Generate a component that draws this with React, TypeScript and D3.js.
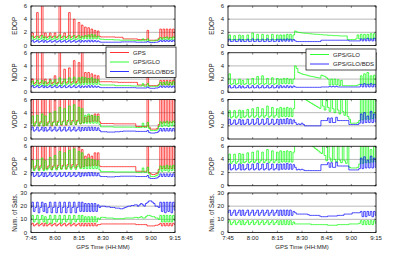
import React from 'react';
import * as d3 from 'd3';

// time axis: minutes after 7:45, one sample per minute
const minutes = d3.range(0, 91);
const timeTicks = [0, 15, 30, 45, 60, 75, 90];
const timeLabels = ['7:45', '8:00', '8:15', '8:30', '8:45', '9:00', '9:15'];
const dopTicks = [0, 2, 4, 6];
const satTicks = [0, 10, 20, 30];

// ---- left column: GPS, GPS/GLO, GPS/GLO/BDS ----
const edopGps = [1.4,1.9,1.2,1.4,5.0,1.2,1.5,6.5,1.2,1.9,
  1.2,1.4,1.9,1.2,1.4,1.9,1.2,1.4,6.5,1.2,
  1.4,1.9,1.2,1.4,5.0,1.2,1.4,4.0,1.2,1.4,
  3.5,1.2,3.1,1.3,2.8,1.3,2.7,1.3,2.5,1.3,
  2.3,1.3,2.2,1.4,1.3,1.3,1.3,1.3,1.3,1.3,
  1.3,1.3,1.3,1.25,1.25,1.25,1.25,1.25,1.0,1.0,
  1.0,1.0,1.0,1.0,1.0,1.0,1.0,0.9,0.9,0.9,
  0.9,0.9,0.9,2.3,0.8,0.8,0.8,0.8,0.8,0.8,
  1.1,2.5,1.1,2.5,1.2,2.5,1.1,2.5,1.2,2.5,
  1.2];
const edopGlo = [1.0,1.4,0.9,1.0,1.4,0.9,1.0,1.5,0.9,1.3,
  0.9,1.0,1.4,0.9,1.0,1.4,0.9,1.0,1.6,0.9,
  1.0,1.4,0.9,1.0,1.5,0.9,1.0,1.5,0.9,1.0,
  1.5,0.9,1.4,1.0,1.5,1.0,1.6,1.0,1.7,1.0,
  1.6,1.0,1.4,1.0,0.95,0.95,0.9,0.9,0.9,0.9,
  0.9,0.9,0.85,0.85,0.85,0.85,0.8,0.8,0.8,0.8,
  0.8,0.8,0.8,0.8,0.8,0.75,0.75,0.75,0.75,0.7,
  1.0,0.7,0.7,1.0,0.7,0.7,0.7,0.7,0.8,0.8,
  0.9,1.2,0.9,1.2,0.9,1.3,0.9,1.2,0.9,1.3,
  0.9];
const edopBds = [0.6,0.8,0.5,0.6,0.8,0.5,0.6,0.8,0.5,0.75,
  0.5,0.6,0.8,0.5,0.6,0.8,0.5,0.6,0.8,0.5,
  0.6,0.8,0.5,0.6,0.8,0.5,0.6,0.8,0.5,0.6,
  0.8,0.5,0.75,0.55,0.75,0.55,0.8,0.55,0.8,0.55,
  0.75,0.55,0.7,0.55,0.5,0.5,0.5,0.5,0.5,0.5,
  0.5,0.5,0.5,0.5,0.5,0.5,0.5,0.55,0.55,0.55,
  0.55,0.55,0.55,0.55,0.55,0.55,0.5,0.5,0.5,0.5,
  0.5,0.5,0.5,0.6,0.5,0.45,0.45,0.45,0.5,0.5,
  0.6,0.8,0.6,0.8,0.6,0.8,0.6,0.8,0.6,0.8,
  0.6];

const ndopGps = [1.5,2.0,1.3,1.5,6.5,1.3,1.5,6.5,1.3,2.0,
  1.3,1.5,2.0,1.3,1.5,2.5,1.3,1.5,6.5,1.3,
  1.6,3.5,1.4,1.6,3.7,1.4,1.6,4.8,1.4,1.7,
  4.5,1.4,6.5,1.5,3.0,1.5,3.0,1.5,2.8,1.5,
  2.6,1.5,2.5,1.6,1.6,1.6,1.6,1.6,1.6,1.6,
  1.6,1.55,1.55,1.55,1.55,1.5,1.5,1.5,1.5,1.5,
  1.5,1.5,1.5,1.5,1.5,1.5,1.5,1.1,1.1,1.1,
  1.1,1.1,1.1,2.3,1.0,1.0,1.0,1.0,1.0,1.0,
  1.2,1.8,1.1,1.8,1.2,1.8,1.1,1.8,1.2,1.8,
  1.2];
const ndopGlo = [1.2,1.7,1.0,1.2,1.8,1.0,1.2,1.8,1.0,1.6,
  1.0,1.2,1.8,1.0,1.2,1.9,1.0,1.3,2.2,1.0,
  1.3,2.0,1.1,1.3,2.2,1.1,1.3,2.3,1.1,1.3,
  2.2,1.1,2.3,1.2,2.2,1.2,2.1,1.2,2.2,1.2,
  2.0,1.2,1.9,1.2,1.1,1.1,1.1,1.1,1.1,1.1,
  1.1,1.1,1.1,1.0,1.0,1.0,1.0,1.0,1.0,1.0,
  1.0,1.0,1.0,0.95,0.95,0.95,0.95,0.95,0.95,0.95,
  1.3,0.9,0.9,1.3,0.9,0.9,0.9,0.9,0.9,0.9,
  1.1,1.5,1.1,1.5,1.1,1.6,1.1,1.5,1.1,1.6,
  1.1];
const ndopBds = [0.8,1.0,0.7,0.8,1.0,0.7,0.8,1.0,0.7,0.95,
  0.7,0.8,1.0,0.7,0.8,1.0,0.7,0.8,1.0,0.7,
  0.8,1.0,0.7,0.8,1.0,0.7,0.8,1.0,0.7,0.8,
  1.0,0.7,0.95,0.75,0.95,0.75,1.0,0.75,1.0,0.75,
  0.95,0.75,0.9,0.75,0.7,0.7,0.7,0.7,0.7,0.7,
  0.7,0.7,0.7,0.7,0.7,0.7,0.7,0.7,0.7,0.7,
  0.7,0.7,0.7,0.7,0.7,0.7,0.65,0.65,0.65,0.65,
  0.65,0.65,0.65,0.8,0.65,0.6,0.6,0.6,0.65,0.65,
  0.75,0.95,0.75,0.95,0.75,0.95,0.75,0.95,0.75,0.95,
  0.75];

const vdopGps = [2.4,6.5,2.0,2.6,6.5,2.0,2.6,6.5,2.0,6.5,
  2.1,2.6,6.5,2.0,2.6,6.5,2.1,2.7,6.5,2.1,
  2.7,6.5,2.1,2.8,6.5,2.2,2.8,6.5,2.2,2.8,
  6.5,2.3,6.5,2.5,3.3,2.6,3.5,2.6,3.6,2.7,
  3.8,2.7,3.8,2.6,2.35,2.35,2.35,2.35,2.35,2.35,
  2.35,2.35,2.3,2.3,2.3,2.3,2.3,2.3,2.3,2.3,
  2.3,2.3,2.3,2.3,2.3,2.3,1.9,1.9,1.9,1.9,
  1.9,1.9,1.9,6.5,1.8,1.5,1.5,1.5,1.5,1.6,
  2.2,6.5,2.4,6.5,2.5,6.5,2.4,6.5,2.5,6.5,
  2.5];
const vdopGlo = [2.3,3.5,2.0,2.4,3.6,2.0,2.4,3.8,2.0,3.5,
  2.1,2.4,3.9,2.1,2.5,4.2,2.1,2.5,4.8,2.2,
  2.6,4.6,2.2,2.6,5.0,2.2,2.6,5.2,2.2,2.6,
  4.8,2.3,4.6,2.4,3.6,2.4,3.8,2.4,3.6,2.4,
  3.5,2.4,3.4,2.2,1.85,1.85,1.85,1.85,1.85,1.85,
  1.85,1.85,1.8,1.8,1.8,1.8,1.8,1.8,1.8,1.8,
  1.8,1.8,1.8,1.8,1.8,1.8,1.75,1.75,1.75,1.75,
  2.4,1.75,1.75,2.5,1.6,1.3,1.3,1.3,1.3,1.4,
  1.9,2.6,1.9,2.6,2.0,2.7,1.9,2.6,2.0,2.7,
  2.0];
const vdopBds = [1.4,1.8,1.2,1.4,1.8,1.2,1.4,1.8,1.2,1.75,
  1.2,1.4,1.8,1.2,1.4,1.8,1.2,1.4,1.8,1.2,
  1.4,1.8,1.2,1.4,1.8,1.2,1.4,1.8,1.2,1.4,
  1.8,1.2,1.75,1.3,1.75,1.3,1.8,1.3,1.8,1.3,
  1.75,1.3,1.7,1.3,1.1,1.1,1.1,1.1,1.05,1.05,
  1.05,1.05,1.05,1.1,1.1,1.1,1.15,1.15,1.2,1.2,
  1.2,1.2,1.2,1.2,1.2,1.2,1.15,1.15,1.15,1.15,
  1.15,1.15,1.15,1.3,1.0,0.9,0.9,0.9,0.95,1.0,
  1.2,1.6,1.2,1.6,1.2,1.6,1.2,1.6,1.2,1.6,
  1.2];

const pdopGps = [2.8,6.5,2.5,3.0,6.5,2.5,3.0,6.5,2.5,6.5,
  2.6,3.0,6.5,2.5,3.0,6.5,2.6,3.1,6.5,2.6,
  3.1,6.5,2.6,3.2,6.5,2.7,3.2,6.5,2.7,3.2,
  6.5,2.8,5.5,2.9,4.5,3.0,4.8,3.0,4.5,3.1,
  5.0,3.1,5.0,3.0,2.9,2.9,2.9,2.9,2.9,2.9,
  2.9,2.9,2.9,2.9,2.9,2.9,2.9,2.9,2.9,2.9,
  2.9,2.9,2.9,2.9,2.9,2.9,2.2,2.2,2.2,2.2,
  2.2,2.2,2.2,6.5,2.0,1.8,1.7,1.7,1.8,1.9,
  2.5,6.5,2.6,6.5,2.6,6.5,2.6,6.5,2.6,6.5,
  2.6];
const pdopGlo = [2.6,3.8,2.3,2.7,3.9,2.3,2.7,4.2,2.3,3.8,
  2.4,2.7,4.3,2.4,2.8,4.6,2.4,2.8,5.2,2.5,
  2.9,5.0,2.5,2.9,5.4,2.5,2.9,5.6,2.5,2.9,
  5.2,2.6,5.0,2.6,4.0,2.6,4.2,2.6,4.0,2.6,
  3.9,2.6,3.8,2.4,2.15,2.15,2.15,2.15,2.15,2.15,
  2.15,2.15,2.1,2.1,2.1,2.1,2.1,2.1,2.1,2.1,
  2.1,2.1,2.1,2.1,2.1,2.1,2.05,2.05,2.05,2.05,
  2.7,2.05,2.05,2.8,1.8,1.4,1.4,1.4,1.5,1.6,
  2.2,3.0,2.2,3.0,2.3,3.1,2.2,3.0,2.3,3.1,
  2.3];
const pdopBds = [1.6,2.0,1.4,1.6,2.0,1.4,1.6,2.0,1.4,1.95,
  1.4,1.6,2.0,1.4,1.6,2.0,1.4,1.6,2.0,1.4,
  1.6,2.0,1.4,1.6,2.0,1.4,1.6,2.0,1.4,1.6,
  2.0,1.4,1.95,1.5,1.95,1.5,2.0,1.5,2.0,1.5,
  1.95,1.5,1.9,1.5,1.4,1.4,1.4,1.4,1.35,1.35,
  1.35,1.35,1.35,1.4,1.4,1.4,1.45,1.45,1.45,1.45,
  1.45,1.45,1.45,1.45,1.45,1.45,1.4,1.4,1.4,1.4,
  1.4,1.4,1.4,1.55,1.2,1.1,1.1,1.1,1.15,1.2,
  1.4,1.8,1.4,1.8,1.4,1.8,1.4,1.8,1.4,1.8,
  1.4];

const satsBds = [19,23,16,19,23,15,19,23,16,22,
  15,19,23,15,19,23,15,19,23,15,
  19,23,15,19,23,15,19,23,15,19,
  23,16,23,16,22,16,22,16,22,16,
  22,16,21,19,20,20,20,19.5,19.5,19.5,
  19,19,19,18.5,18.5,18.5,18,18,18.5,19,
  19.5,20,20,20.5,20.5,21,21,20,21,22,
  21,20,22,23,24,24,23,22,20,20,
  19,23,16,23,15,23,16,23,15,23,
  17];
const satsGlo = [10,13,8,10,13,7,10,13,8,12,
  7,10,13,7,10,13,8,10,13,7,
  10,13,8,10,13,7,10,13,8,10,
  13,8,13,8,12,8,12,8,12,8,
  12,8,11,10,11.5,11.5,11.5,11,11,11,
  11,11,10.5,10.5,10.5,10.5,10.5,10.5,10.5,11,
  11,11,11,11,11,11.5,11.5,11,11.5,12,
  11,11,12,13,13,12.5,12,12,11,11,
  10,13,8,13,8,13,8,13,8,13,
  9];
const satsGps = [6,7,5,6,7,5,6,7,5,7,
  5,6,7,5,6,7,5,6,7,5,
  6,7,5,6,7,5,6,7,5,6,
  7,5,7,5,7,5,7,5,7,5,
  7,5,6,6,6.5,6.5,6.5,6.5,6.5,6.5,
  6.5,6.5,6.5,6.5,6.5,6.5,6.5,6.5,6.5,6.5,
  6.5,6.5,6.5,6.5,6.5,6.5,6,6,6,6,
  6,6,6,5,5,5,5,5,5.5,5.5,
  6,7,5,7,5,7,5,7,5,7,
  6];

// ---- right column: GPS/GLO, GPS/GLO/BDS ----
const rEdopGlo = [0.9,1.6,0.85,0.9,1.5,0.85,0.9,1.6,0.85,1.5,
  0.85,0.9,1.6,0.85,0.9,1.9,0.85,0.9,1.7,0.85,
  0.9,1.7,0.85,0.9,1.6,0.85,0.9,1.7,0.85,0.9,
  1.6,0.85,1.6,0.85,1.6,0.85,1.7,0.9,1.7,0.9,
  1.6,2.2,2.05,2.0,1.95,1.9,1.9,1.85,1.85,1.8,
  1.8,1.75,1.75,1.7,1.7,1.7,1.65,1.65,1.6,1.6,
  1.6,1.55,1.55,1.55,1.5,1.5,1.5,1.5,1.45,1.45,
  1.45,1.45,1.45,0.9,0.9,0.9,0.9,0.9,1.0,1.6,
  1.0,1.7,1.0,1.7,1.0,1.7,1.0,1.8,1.0,1.8,
  1.0];
const rEdopBds = [0.65,0.95,0.6,0.65,0.9,0.6,0.65,0.95,0.6,0.9,
  0.6,0.65,0.95,0.6,0.65,1.0,0.6,0.65,0.95,0.6,
  0.65,0.95,0.6,0.65,1.0,0.6,0.65,0.95,0.6,0.65,
  0.95,0.6,0.95,0.65,0.95,0.65,1.0,0.65,0.95,0.65,
  0.9,0.7,0.6,0.6,0.6,0.6,0.6,0.6,0.6,0.6,
  0.6,0.6,0.6,0.6,0.6,0.6,0.6,0.8,0.8,0.8,
  0.8,0.8,0.8,0.8,0.8,0.8,0.8,0.8,0.8,0.8,
  0.8,0.8,0.8,0.8,0.7,0.7,0.7,0.7,0.7,0.7,
  0.7,1.0,0.7,1.0,0.7,1.1,0.7,1.0,0.7,1.1,
  0.7];

const rNdopGlo = [1.3,2.8,1.2,1.3,1.9,1.2,1.3,2.0,1.2,1.8,
  1.2,1.3,2.0,1.2,1.3,2.1,1.2,1.3,2.4,1.2,
  1.3,2.5,1.2,1.3,2.1,1.2,1.3,2.2,1.2,1.3,
  2.1,1.2,2.0,1.3,2.1,1.3,2.1,1.3,2.0,1.3,
  2.0,4.0,3.6,3.0,2.9,2.8,2.7,2.65,2.6,2.5,
  2.45,2.4,2.35,2.3,2.25,2.2,2.15,2.6,2.5,2.4,
  2.2,2.0,1.1,2.0,1.1,2.0,1.1,1.9,1.0,1.8,
  1.0,1.0,1.0,1.0,1.0,1.0,1.0,1.0,1.0,1.1,
  1.2,2.5,1.2,2.8,1.2,3.0,1.2,2.5,1.2,2.6,
  1.2];
const rNdopBds = [0.7,1.0,0.65,0.7,1.0,0.65,0.7,1.0,0.65,0.95,
  0.65,0.7,1.0,0.65,0.7,1.0,0.65,0.7,1.0,0.65,
  0.7,1.0,0.65,0.7,1.0,0.65,0.7,1.0,0.65,0.7,
  1.0,0.65,1.0,0.7,0.95,0.7,1.0,0.7,0.95,0.7,
  0.95,0.8,0.75,0.75,0.75,0.75,0.75,0.75,0.75,0.75,
  0.75,0.75,0.75,0.75,0.75,0.75,0.75,0.8,0.8,0.8,
  0.8,0.8,0.9,0.8,0.9,0.8,0.9,0.8,0.8,0.8,
  0.8,0.8,0.8,0.8,0.8,0.8,0.8,0.8,0.8,0.8,
  0.8,1.2,0.8,1.3,0.8,1.2,0.8,1.3,0.8,1.2,
  0.8];

const rVdopGlo = [3.4,4.3,3.2,3.4,4.3,3.2,3.5,4.4,3.2,4.3,
  3.3,3.5,4.5,3.3,3.5,4.6,3.3,3.5,4.8,3.3,
  3.5,4.6,3.3,3.6,5.0,3.3,3.5,4.8,3.3,3.6,
  4.6,3.3,4.8,3.4,4.7,3.4,4.8,3.4,4.7,3.4,
  4.6,7,7,7,7,7,7,6.0,5.85,5.7,
  5.55,5.4,5.25,5.1,4.95,4.8,4.65,7,5.0,4.4,
  7,4.8,4.2,7,4.6,4.0,7,4.4,3.8,7,
  4.2,3.6,7,3.4,3.0,2.4,2.4,2.4,2.4,2.5,
  2.8,7,2.9,6.5,3.0,7,3.0,6.0,3.1,7,
  3.2];
const rVdopBds = [2.3,3.0,2.2,2.4,2.9,2.2,2.4,3.0,2.2,2.9,
  2.2,2.4,3.0,2.2,2.4,3.0,2.2,2.4,3.1,2.2,
  2.4,3.0,2.2,2.4,3.1,2.2,2.4,3.0,2.2,2.4,
  3.0,2.2,3.0,2.3,3.0,2.3,3.1,2.3,3.0,2.3,
  2.9,2.5,2.2,2.3,2.2,2.4,2.2,2.0,2.0,2.0,
  2.0,2.0,2.0,2.0,2.0,2.0,2.0,2.8,2.8,2.8,
  2.8,3.2,2.5,3.2,2.5,2.5,3.3,2.8,2.8,2.8,
  2.8,2.8,2.8,2.8,2.2,2.2,2.2,2.2,2.2,2.2,
  2.4,3.8,2.4,4.0,2.5,3.5,2.5,4.2,2.5,3.8,
  2.6];

const rPdopGlo = [3.6,4.8,3.4,3.7,4.8,3.4,3.7,4.9,3.4,4.8,
  3.5,3.7,5.0,3.5,3.7,5.1,3.5,3.8,5.3,3.5,
  3.8,5.1,3.5,3.8,5.5,3.5,3.8,5.3,3.5,3.8,
  5.1,3.5,5.3,3.6,5.2,3.6,5.3,3.6,5.2,3.6,
  5.1,7,7,7,7,7,7,7,7,7,
  7,6.1,5.9,5.7,5.5,5.3,5.1,4.9,7,4.6,
  3.8,7,4.2,3.7,7,4.0,3.6,7,3.9,3.5,
  7,3.8,3.4,7,2.8,2.7,2.7,2.7,2.7,2.8,
  3.3,7,3.4,6.0,3.5,7,3.5,5.5,3.6,7,
  3.6];
const rPdopBds = [2.5,3.3,2.4,2.6,3.2,2.4,2.6,3.3,2.4,3.2,
  2.4,2.6,3.3,2.4,2.6,3.3,2.4,2.6,3.4,2.4,
  2.6,3.3,2.4,2.6,3.4,2.4,2.6,3.3,2.4,2.6,
  3.3,2.4,3.3,2.5,3.3,2.5,3.4,2.5,3.3,2.5,
  3.2,2.8,2.4,2.5,2.4,2.5,2.4,2.3,2.3,2.3,
  2.3,2.3,2.3,2.3,2.3,2.3,2.3,3.2,3.2,3.2,
  3.2,3.5,2.8,3.5,2.8,2.8,3.6,3.0,3.0,3.0,
  3.0,3.0,3.0,3.0,2.4,2.4,2.4,2.4,2.4,2.4,
  2.6,4.2,2.6,4.4,2.7,3.9,2.7,4.5,2.7,4.2,
  2.8];

const rSatsBds = [15,17,13,15,17,13,15,17,13,17,
  13,15,17,13,15,17,13,15,17,13,
  15,17,13,15,17,13,15,17,13,15,
  17,13,17,13,17,13,17,13,17,13,
  16,15,14,14,14,14,14,14,14,13.5,
  13,13,13,13,13,13,12.5,12,12,12,
  12,12.5,12.5,12.5,12.5,12.5,12.5,13,13,13,
  13,14,14,14,14,14,15,15,15,15,
  15,16,12,16,12,16,13,16,12,16,
  13];
const rSatsGlo = [7.5,9,6,7.5,9,6,7.5,9,6,9,
  6,7.5,9,6,7.5,9,6,7.5,9,6,
  7.5,9,6,7.5,9,6,7.5,9,6,7.5,
  9,6,9,6,9,6,9,6,9,6,
  8,6.5,6.5,6.5,6.5,6.5,6.5,6.5,6.5,6.5,
  6.5,6,6,6,6,6,6,6,6,6,
  6,5.5,5.5,5.5,5.5,5.5,5.5,6,6,6,
  6,6,6,6,6.5,6.5,6.5,6.5,6.5,6.5,
  7,9,6,9,6,9,6,9,6,9,
  7];

const RED = '#ff0000';
const GREEN = '#00ff00';
const BLUE = '#0000ff';
const FONT = 'Liberation Sans, Arial, sans-serif';

const panelTops = [6, 52.75, 99.5, 146.25, 193];
const panelH = 39.5;

type Series = { values: number[]; color: string };

function Panel({ id, x0, x1, top, yMax, ticks, label, series, xLabels }: {
  id: string; x0: number; x1: number; top: number; yMax: number; ticks: number[];
  label: string; series: Series[]; xLabels: boolean;
}) {
  const x = d3.scaleLinear().domain([0, 90]).range([x0, x1]);
  const y = d3.scaleLinear().domain([0, yMax]).range([top + panelH, top]);
  const line = d3.line<number>().x((d, i) => x(minutes[i])).y(d => y(d)).curve(d3.curveStep);
  const bottom = top + panelH;

  return (
    <g>
      <clipPath id={id}>
        <rect x={x0} y={top} width={x1 - x0} height={panelH} />
      </clipPath>
      {/* grid */}
      {ticks.slice(1, -1).map(t => (
        <line key={t} x1={x0} x2={x1} y1={y(t)} y2={y(t)} stroke="#9a9a9a" strokeWidth={0.7} />
      ))}
      <g clipPath={`url(#${id})`}>
        {series.map((s, i) => (
          <path key={i} d={line(s.values) || ''} fill="none" stroke={s.color} strokeWidth={0.7} />
        ))}
      </g>
      {/* frame + ticks */}
      <rect x={x0} y={top} width={x1 - x0} height={panelH} fill="none" stroke="#000" strokeWidth={0.8} />
      {timeTicks.map(t => (
        <g key={t}>
          <line x1={x(t)} x2={x(t)} y1={bottom} y2={bottom - 1.8} stroke="#000" strokeWidth={0.5} />
          <line x1={x(t)} x2={x(t)} y1={top} y2={top + 1.8} stroke="#000" strokeWidth={0.5} />
        </g>
      ))}
      {ticks.map(t => (
        <g key={t}>
          <line x1={x0} x2={x0 + 1.8} y1={y(t)} y2={y(t)} stroke="#000" strokeWidth={0.5} />
          <line x1={x1} x2={x1 - 1.8} y1={y(t)} y2={y(t)} stroke="#000" strokeWidth={0.5} />
          <text x={x0 - 4} y={y(t) + 2} fontSize={6} textAnchor="end" fontFamily={FONT} fill="#222">{t}</text>
        </g>
      ))}
      <text transform={`translate(${x0 - 14},${top + panelH / 2}) rotate(-90)`} fontSize={6.3}
        textAnchor="middle" fontFamily={FONT} fill="#222">{label}</text>
      {xLabels && timeLabels.map((l, i) => (
        <text key={l} x={x(timeTicks[i])} y={240} fontSize={6} textAnchor="middle" fontFamily={FONT} fill="#222">{l}</text>
      ))}
      {xLabels && (
        <text x={(x0 + x1) / 2} y={249} fontSize={6} textAnchor="middle" fontFamily={FONT} fill="#222">GPS Time (HH:MM)</text>
      )}
    </g>
  );
}

function Legend({ x, y, w, items }: { x: number; y: number; w: number; items: { name: string; color: string }[] }) {
  const rowH = 9.5;
  const h = items.length * rowH + 2;
  return (
    <g>
      <rect x={x} y={y} width={w} height={h} fill="#fff" stroke="#000" strokeWidth={0.7} />
      {items.map((it, i) => {
        const cy = y + 5.5 + i * rowH;
        return (
          <g key={it.name}>
            <line x1={x + 4} x2={x + 23} y1={cy} y2={cy} stroke={it.color} strokeWidth={0.8} />
            <text x={x + 27} y={cy + 2} fontSize={6} fontFamily={FONT} fill="#222">{it.name}</text>
          </g>
        );
      })}
    </g>
  );
}

export default function App() {
  const L = { x0: 31, x1: 175 };
  const R = { x0: 228, x1: 376 };
  const left = [
    { label: 'EDOP', s: [edopGps, edopGlo, edopBds] },
    { label: 'NDOP', s: [ndopGps, ndopGlo, ndopBds] },
    { label: 'VDOP', s: [vdopGps, vdopGlo, vdopBds] },
    { label: 'PDOP', s: [pdopGps, pdopGlo, pdopBds] },
  ];
  const right = [
    { label: 'EDOP', s: [rEdopGlo, rEdopBds] },
    { label: 'NDOP', s: [rNdopGlo, rNdopBds] },
    { label: 'VDOP', s: [rVdopGlo, rVdopBds] },
    { label: 'PDOP', s: [rPdopGlo, rPdopBds] },
  ];
  return (
    <div style={{ position: 'absolute', left: 0, top: 0 }}>
      <svg width={397} height={253} style={{ display: 'block', background: '#fff' }}>
        {left.map((p, i) => (
          <Panel key={'l' + i} id={'cl' + i} {...L} top={panelTops[i]} yMax={6} ticks={dopTicks} label={p.label}
            series={p.s.map((v, j) => ({ values: v, color: [RED, GREEN, BLUE][j] }))} xLabels={false} />
        ))}
        <Panel id="cl4" {...L} top={panelTops[4]} yMax={30} ticks={satTicks} label="Num. of Sats."
          series={[{ values: satsGps, color: RED }, { values: satsGlo, color: GREEN }, { values: satsBds, color: BLUE }]} xLabels />
        {right.map((p, i) => (
          <Panel key={'r' + i} id={'cr' + i} {...R} top={panelTops[i]} yMax={6} ticks={dopTicks} label={p.label}
            series={p.s.map((v, j) => ({ values: v, color: [GREEN, BLUE][j] }))} xLabels={false} />
        ))}
        <Panel id="cr4" {...R} top={panelTops[4]} yMax={30} ticks={satTicks} label="Num. of Sats."
          series={[{ values: rSatsGlo, color: GREEN }, { values: rSatsBds, color: BLUE }]} xLabels />
        <Legend x={106} y={47} w={70} items={[
          { name: 'GPS', color: RED }, { name: 'GPS/GLO', color: GREEN }, { name: 'GPS/GLO/BDS', color: BLUE }]} />
        <Legend x={306} y={49} w={70} items={[
          { name: 'GPS/GLO', color: GREEN }, { name: 'GPS/GLO/BDS', color: BLUE }]} />
      </svg>
    </div>
  );
}
